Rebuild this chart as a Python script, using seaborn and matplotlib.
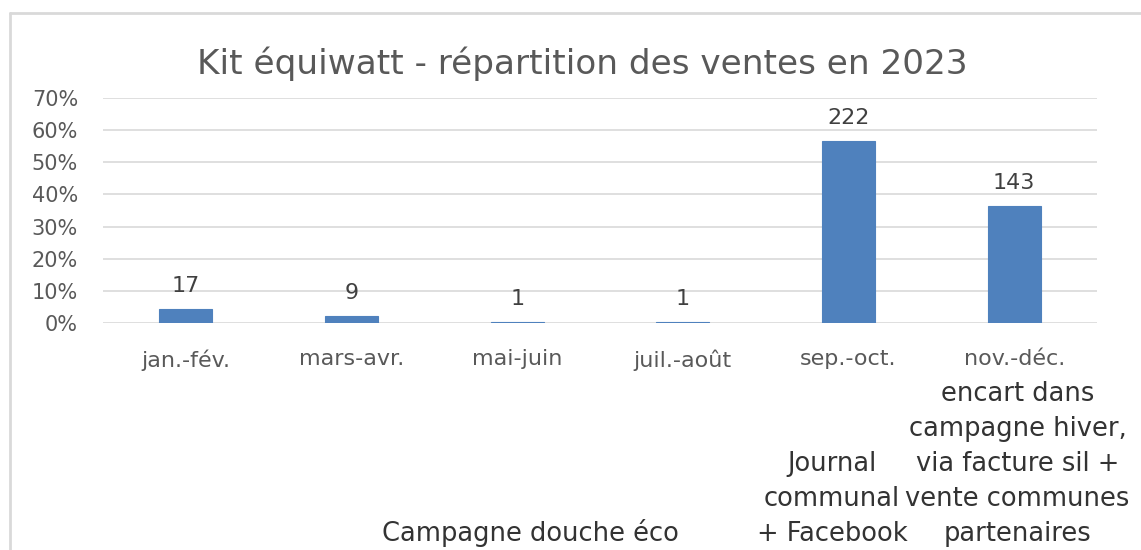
import matplotlib.pyplot as plt
from matplotlib.lines import Line2D
from matplotlib.ticker import PercentFormatter
import numpy as np
import pandas as pd
import seaborn as sns

periods = ['jan.-fév.', 'mars-avr.', 'mai-juin', 'juil.-août', 'sep.-oct.', 'nov.-déc.']
ventes = [17, 9, 1, 1, 222, 143]
title = 'Kit équiwatt - répartition des ventes en 2023'

# notes under the axis: (x position in categories, text)
notes = [
    (2.08, 'Campagne douche éco'),
    (3.90, 'Journal\ncommunal\n+ Facebook'),
    (5.02, 'encart dans\ncampagne hiver,\nvia facture sil +\nvente communes\npartenaires'),
]

sns.set_style('white')
plt.rcParams['font.family'] = ['DejaVu Sans']

df = pd.DataFrame({'periode': periods, 'ventes': ventes})
df['part'] = df['ventes'] / df['ventes'].sum()

fig = plt.figure(figsize=(11.41, 5.5), dpi=100)
ax = fig.add_axes([0.0903, 0.4127, 0.8711, 0.4091])

sns.barplot(data=df, x='periode', y='part', color='#4F81BD', width=0.32,
            saturation=1, edgecolor='#4F81BD', linewidth=0.8, ax=ax)

ax.set_ylim(0, 0.70)
ax.set_xlim(-0.5, 5.5)
ax.set_yticks(np.arange(0, 0.71, 0.1))
ax.yaxis.set_major_formatter(PercentFormatter(1.0, decimals=0))
ax.grid(axis='y', color='#d9d9d9', linewidth=1.2)
ax.set_axisbelow(True)
for s in ax.spines.values():
    s.set_visible(False)
ax.tick_params(axis='both', length=0, labelcolor='#595959')
ax.tick_params(axis='x', pad=19, labelsize=16)
ax.tick_params(axis='y', pad=18, labelsize=15)
ax.set_xlabel('')
ax.set_ylabel('')

# count labels above bars
for i, (v, p) in enumerate(zip(df['ventes'], df['part'])):
    ax.text(i, p + 0.053, str(v), ha='center', va='baseline', fontsize=16, color='#404040')

# campaign notes
for x, txt in notes:
    ax.text(x, -0.697, txt, ha='center', va='bottom', fontsize=18.5, color='#333333',
            linespacing=1.45, clip_on=False)

ax.set_title(title, fontsize=24.7, color='#595959', pad=17, x=0.482)

# chart frame
fig.add_artist(Line2D([10 / 1141, 10 / 1141], [0, 1 - 13 / 550], color='#d9d9d9', lw=2))
fig.add_artist(Line2D([10 / 1141, 1], [1 - 13 / 550, 1 - 13 / 550], color='#d9d9d9', lw=2))

fig.savefig('out.png', dpi=100)
